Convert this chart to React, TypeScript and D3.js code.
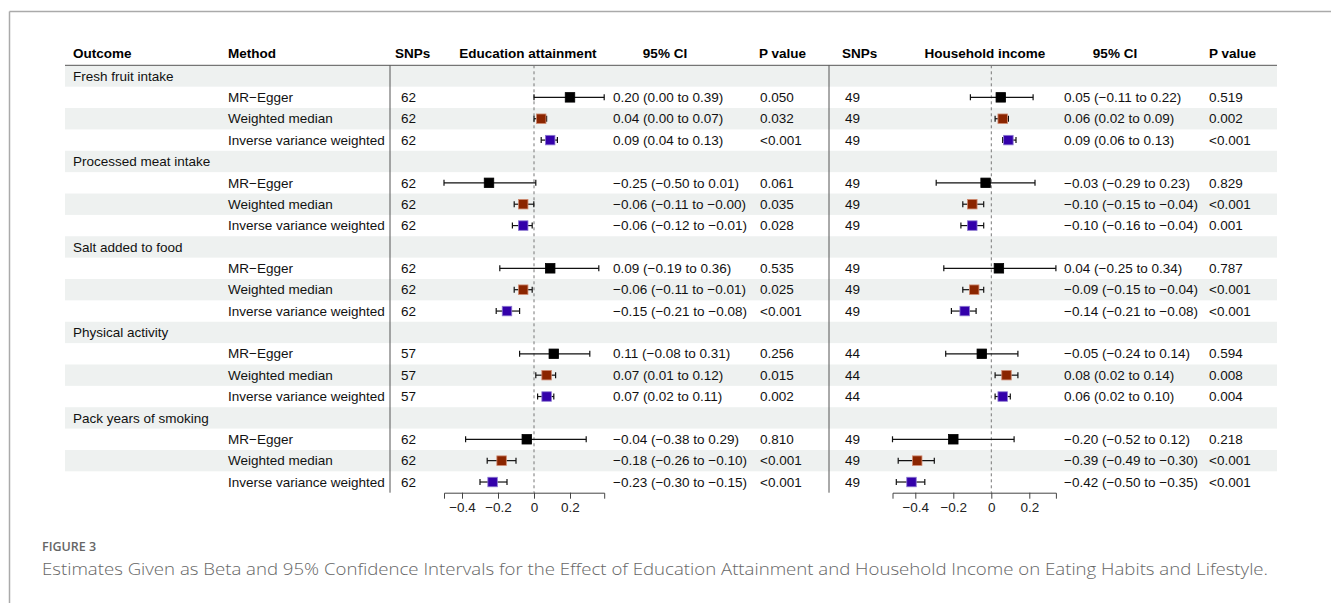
import React, { useEffect, useRef } from "react";
import * as d3 from "d3";

const outcomes = [
  "Fresh fruit intake",
  "Processed meat intake",
  "Salt added to food",
  "Physical activity",
  "Pack years of smoking",
];
const methods = ["MR−Egger", "Weighted median", "Inverse variance weighted"];

// Education attainment, one row of three methods per outcome
const eduSnps = [62, 62, 62, 57, 62];
const eduBeta = [[0.2, 0.04, 0.09], [-0.25, -0.06, -0.06], [0.09, -0.06, -0.15], [0.11, 0.07, 0.07], [-0.04, -0.18, -0.23]];
// -0.001 prints as "−0.00"
const eduLow = [[0.0, 0.0, 0.04], [-0.5, -0.11, -0.12], [-0.19, -0.11, -0.21], [-0.08, 0.01, 0.02], [-0.38, -0.26, -0.3]];
const eduHigh = [[0.39, 0.07, 0.13], [0.01, -0.001, -0.01], [0.36, -0.01, -0.08], [0.31, 0.12, 0.11], [0.29, -0.1, -0.15]];
const eduP = [["0.050", "0.032", "<0.001"], ["0.061", "0.035", "0.028"], ["0.535", "0.025", "<0.001"], ["0.256", "0.015", "0.002"], ["0.810", "<0.001", "<0.001"]];

// Household income
const incSnps = [49, 49, 49, 44, 49];
const incBeta = [[0.05, 0.06, 0.09], [-0.03, -0.1, -0.1], [0.04, -0.09, -0.14], [-0.05, 0.08, 0.06], [-0.2, -0.39, -0.42]];
const incLow = [[-0.11, 0.02, 0.06], [-0.29, -0.15, -0.16], [-0.25, -0.15, -0.21], [-0.24, 0.02, 0.02], [-0.52, -0.49, -0.5]];
const incHigh = [[0.22, 0.09, 0.13], [0.23, -0.04, -0.04], [0.34, -0.04, -0.08], [0.14, 0.14, 0.1], [0.12, -0.3, -0.35]];
const incP = [["0.519", "0.002", "<0.001"], ["0.829", "<0.001", "0.001"], ["0.787", "<0.001", "<0.001"], ["0.594", "0.008", "0.004"], ["0.218", "<0.001", "<0.001"]];

const tickValues = [-0.4, -0.2, 0, 0.2];

const boxFill = ["#000000", "#8B2500", "#3300AA"];
const boxStroke = ["#000000", "#D08A70", "#8C78D0"];

const W = 1331;
const H = 603;
const FONT = "'Liberation Sans', Arial, sans-serif";

interface Row {
  kind: "outcome" | "method";
  outcome: number;
  method: number;
}

const App: React.FC = () => {
  const svgRef = useRef<SVGSVGElement>(null);

  useEffect(() => {
    document.body.style.margin = "0";
    const svg = d3.select(svgRef.current);
    svg.selectAll("*").remove();

    const rows: Row[] = [];
    outcomes.forEach((_, o) => {
      rows.push({ kind: "outcome", outcome: o, method: -1 });
      methods.forEach((_, m) => rows.push({ kind: "method", outcome: o, method: m }));
    });

    const top = 65.3;
    const y = d3
      .scaleBand<number>()
      .domain(d3.range(rows.length))
      .range([top, top + rows.length * 21.37])
      .padding(0);
    const bottom = top + rows.length * 21.37;

    const fmt = (v: number) => v.toFixed(2).replace("-", "−");

    // outer frame (top and left)
    svg.append("line").attr("x1", 9.5).attr("x2", W).attr("y1", 11.5).attr("y2", 11.5).attr("stroke", "#aaa").attr("stroke-width", 1.5);
    svg.append("line").attr("x1", 9.5).attr("x2", 9.5).attr("y1", 11.5).attr("y2", H).attr("stroke", "#aaa").attr("stroke-width", 1.5);

    const tab = svg.append("g").style("font-family", FONT).style("font-size", "13.5px");

    // banding
    tab
      .selectAll("rect.band")
      .data(rows.map((_, i) => i).filter((i) => i % 2 === 0))
      .enter()
      .append("rect")
      .attr("x", 65)
      .attr("width", 1277 - 65)
      .attr("y", (i) => y(i)!)
      .attr("height", y.bandwidth())
      .attr("fill", "#EEF1F0");

    // header
    const headers: [string, number, string][] = [
      ["Outcome", 73, "start"],
      ["Method", 228, "start"],
      ["SNPs", 395, "start"],
      ["Education attainment", 528, "middle"],
      ["95% CI", 665, "middle"],
      ["P value", 759, "start"],
      ["SNPs", 842, "start"],
      ["Household income", 985, "middle"],
      ["95% CI", 1115, "middle"],
      ["P value", 1209, "start"],
    ];
    tab
      .selectAll("text.head")
      .data(headers)
      .enter()
      .append("text")
      .attr("x", (d) => d[1])
      .attr("y", 58)
      .attr("text-anchor", (d) => d[2])
      .attr("font-weight", "bold")
      .attr("fill", "#000")
      .text((d) => d[0]);

    tab.append("line").attr("x1", 65).attr("x2", 1277).attr("y1", top).attr("y2", top).attr("stroke", "#555").attr("stroke-width", 1);

    const cy = (i: number) => y(i)! + y.bandwidth() / 2;

    // row labels
    rows.forEach((r, i) => {
      const t = (x: number, s: string | number) =>
        tab.append("text").attr("x", x).attr("y", cy(i) + 4.7).attr("fill", "#111").text(s);
      if (r.kind === "outcome") {
        t(73, outcomes[r.outcome]);
        return;
      }
      const o = r.outcome;
      const m = r.method;
      t(228, methods[m]);
      t(401, eduSnps[o]);
      t(613, `${fmt(eduBeta[o][m])} (${fmt(eduLow[o][m])} to ${fmt(eduHigh[o][m])})`);
      t(760, eduP[o][m]);
      t(845, incSnps[o]);
      t(1064, `${fmt(incBeta[o][m])} (${fmt(incLow[o][m])} to ${fmt(incHigh[o][m])})`);
      t(1209, incP[o][m]);
    });

    // vertical dividers
    [390, 829].forEach((x) => {
      tab.append("line").attr("x1", x).attr("x2", x).attr("y1", top).attr("y2", bottom).attr("stroke", "#555").attr("stroke-width", 1);
    });

    const panel = (
      beta: number[][],
      low: number[][],
      high: number[][],
      range: [number, number]
    ) => {
      const lo = d3.min(low.flat())!;
      const hi = d3.max(high.flat())!;
      const x = d3.scaleLinear().domain([lo, hi]).range(range);
      const g = tab.append("g");

      g.append("line")
        .attr("x1", x(0))
        .attr("x2", x(0))
        .attr("y1", top)
        .attr("y2", bottom)
        .attr("stroke", "#777")
        .attr("stroke-width", 1)
        .attr("stroke-dasharray", "3,3");

      const pts = rows
        .map((r, i) => ({ r, i }))
        .filter((d) => d.r.kind === "method")
        .map(({ r, i }) => ({
          i,
          m: r.method,
          b: beta[r.outcome][r.method],
          l: low[r.outcome][r.method],
          h: high[r.outcome][r.method],
        }));

      const ci = g.selectAll("g.ci").data(pts).enter().append("g").attr("stroke", "#111").attr("stroke-width", 1.2);
      ci.append("line").attr("x1", (d) => x(d.l)).attr("x2", (d) => x(d.h)).attr("y1", (d) => cy(d.i)).attr("y2", (d) => cy(d.i));
      ci.append("line").attr("x1", (d) => x(d.l)).attr("x2", (d) => x(d.l)).attr("y1", (d) => cy(d.i) - 3).attr("y2", (d) => cy(d.i) + 3);
      ci.append("line").attr("x1", (d) => x(d.h)).attr("x2", (d) => x(d.h)).attr("y1", (d) => cy(d.i) - 3).attr("y2", (d) => cy(d.i) + 3);

      const s = 9.5;
      g.selectAll("rect.box")
        .data(pts)
        .enter()
        .append("rect")
        .attr("x", (d) => x(d.b) - s / 2)
        .attr("y", (d) => cy(d.i) - s / 2)
        .attr("width", s)
        .attr("height", s)
        .attr("fill", (d) => boxFill[d.m])
        .attr("stroke", (d) => boxStroke[d.m])
        .attr("stroke-width", 0.8);

      const axis = d3
        .axisBottom(x)
        .tickValues(tickValues)
        .tickSizeOuter(0)
        .tickSize(6)
        .tickPadding(4)
        .tickFormat((d) => (d === 0 ? "0" : d3.format(".1f")(d as number)));
      const ag = g.append("g").attr("transform", `translate(0,${bottom})`).call(axis);
      ag.select(".domain").attr("stroke", "#444");
      ag.selectAll(".tick line").attr("stroke", "#444");
      ag.selectAll(".tick text").attr("fill", "#222").style("font-size", "13.5px").style("font-family", FONT);
    };

    panel(eduBeta, eduLow, eduHigh, [444, 604.2]);
    panel(incBeta, incLow, incHigh, [892.5, 1055.9]);

    // caption
    const cap = svg.append("g").style("font-family", "'Open Sans', sans-serif").attr("fill", "#666");
    cap.append("text").attr("x", 42).attr("y", 551).attr("font-weight", 600).style("font-size", "12.5px").text("FIGURE 3");
    cap
      .append("text")
      .attr("x", 42)
      .attr("y", 575)
      .attr("font-weight", 300)
      .style("font-size", "16px")
      .attr("textLength", 1226)
      .attr("lengthAdjust", "spacingAndGlyphs")
      .text(
        "Estimates Given as Beta and 95% Confidence Intervals for the Effect of Education Attainment and Household Income on Eating Habits and Lifestyle."
      );
  }, []);

  return <svg ref={svgRef} width={W} height={H} style={{ display: "block", background: "#fff" }}></svg>;
};

export default App;
